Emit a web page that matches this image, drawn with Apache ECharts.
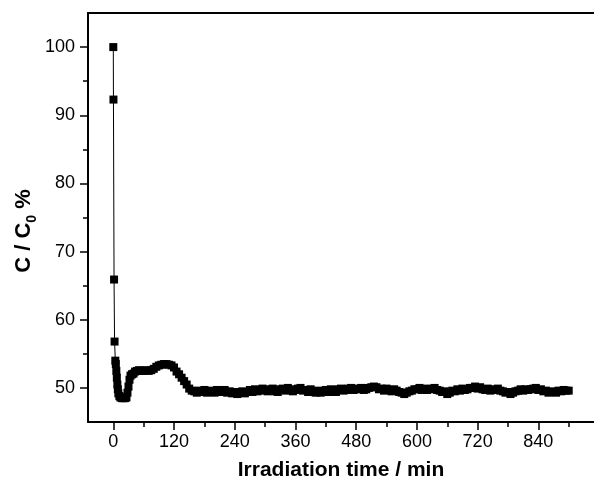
<!DOCTYPE html>
<html><head><meta charset="utf-8">
<script src="https://cdn.jsdelivr.net/npm/echarts@6/dist/echarts.min.js"></script>
<style>html,body{margin:0;padding:0;background:#fff}#c{width:594px;height:486px}</style>
</head><body><div id="c"></div>
<script>
// Irradiation time (min)
const times = [0,0.3,1.5,2.5,4,5,6,7,8,9,10,12,14,17,20,23,26,28,30,32,34,37,40,43,47,51,55,60,65,70,75,80,85,90,95,100,105,110,115,120,125,130,135,140,145,150,155,
160,165,170,175,180,185,190,195,200,205,210,215,220,225,230,235,240,245,250,255,260,265,270,275,280,285,290,295,300,305,310,315,320,325,330,335,340,345,350,355,
360,365,370,375,380,385,390,395,400,405,410,415,420,425,430,435,440,445,450,455,460,465,470,475,480,485,490,495,500,505,510,515,520,525,530,535,540,545,550,555,
560,565,570,575,580,585,590,595,600,605,610,615,620,625,630,635,640,645,650,655,660,665,670,675,680,685,690,695,700,705,710,715,720,725,730,735,740,745,750,755,
760,765,770,775,780,785,790,795,800,805,810,815,820,825,830,835,840,845,850,855,860,865,870,875,880,885,890,895,900];
// C / C0 (%)
const concentration = [100,92.3,65.9,56.8,54,53.5,52.5,51.5,50.5,49.8,49.2,48.8,48.6,48.5,48.5,48.5,48.6,49.3,50.2,51.2,51.8,52.0,52.1,52.4,52.5,52.6,52.5,52.5,52.6,52.5,52.6,52.8,53.1,53.3,53.4,53.5,53.5,53.4,53.3,53.0,52.4,52.0,51.5,51.0,50.5,49.9,49.6,
49.5,49.3,49.6,49.4,49.7,49.3,49.6,49.5,49.3,49.7,49.4,49.5,49.7,49.3,49.5,49.2,49.4,49.1,49.4,49.5,49.2,49.4,49.7,49.4,49.8,49.5,49.7,49.9,49.6,49.5,49.8,49.9,49.5,49.4,49.8,49.9,49.6,50.0,49.8,49.5,
49.7,49.9,50.0,49.6,49.7,49.4,49.8,49.5,49.3,49.6,49.3,49.5,49.7,49.4,49.8,49.6,49.4,49.8,49.9,49.6,49.7,49.9,50.0,49.7,49.8,49.9,50.0,49.7,49.8,50.0,50.1,50.2,50.1,49.8,49.9,49.6,49.9,49.7,49.5,49.8,
49.6,49.4,49.3,49.1,49.3,49.5,49.6,49.8,49.8,50.0,49.7,49.9,49.7,49.8,49.9,50.0,49.7,49.6,49.4,49.5,49.1,49.3,49.6,49.5,49.8,49.6,49.9,49.7,49.8,50.0,50.0,50.2,49.9,50.1,49.8,49.7,49.9,49.6,49.8,49.7,
49.9,49.6,49.5,49.3,49.4,49.1,49.3,49.5,49.6,49.8,49.6,49.8,49.7,49.8,49.9,50.0,49.7,49.8,49.5,49.6,49.3,49.5,49.4,49.3,49.6,49.5,49.7,49.6,49.6];
const xMajorTicks = [0,120,240,360,480,600,720,840];
const xMinorTicks = [60,180,300,420,540,660,780,900];
const yMajorTicks = [50,60,70,80,90,100];
const yMinorTicks = [55,65,75,85,95];

const FONT = "'Liberation Sans', Arial, Helvetica, sans-serif";
const chart = echarts.init(document.getElementById('c'), null, {renderer:'canvas'});
const lineStyle = {color:'#000', width:2};
const tickStyle = {color:'#000', width:1.5};
chart.setOption({
  animation:false,
  backgroundColor:'#fff',
  grid:{left:88, top:13, width:507, height:411, containLabel:false},
  xAxis:[
    {type:'value', min:-50, max:950, position:'bottom',
     axisLine:{show:true, onZero:false, lineStyle:lineStyle},
     axisTick:{show:true, customValues:xMajorTicks, length:8, lineStyle:tickStyle},
     axisLabel:{show:true, customValues:xMajorTicks, fontSize:18, color:'#000', fontFamily:FONT, margin:11},
     splitLine:{show:false},
     name:'Irradiation time / min', nameLocation:'middle', nameGap:38,
     nameTextStyle:{fontSize:21, fontWeight:'bold', color:'#000', fontFamily:FONT}},
    {type:'value', min:-50, max:950, position:'bottom',
     axisLine:{show:false, onZero:false},
     axisTick:{show:true, customValues:xMinorTicks, length:5, lineStyle:tickStyle},
     axisLabel:{show:false}, splitLine:{show:false}},
    {type:'value', min:-50, max:950, position:'top',
     axisLine:{show:true, onZero:false, lineStyle:lineStyle},
     axisTick:{show:false}, axisLabel:{show:false}, splitLine:{show:false}}
  ],
  yAxis:[
    {type:'value', min:45, max:105, position:'left',
     axisLine:{show:true, onZero:false, lineStyle:lineStyle},
     axisTick:{show:true, customValues:yMajorTicks, length:8, lineStyle:tickStyle},
     axisLabel:{show:true, customValues:yMajorTicks, fontSize:18, color:'#000', fontFamily:FONT, margin:13},
     splitLine:{show:false}},
    {type:'value', min:45, max:105, position:'left',
     axisLine:{show:false, onZero:false},
     axisTick:{show:true, customValues:yMinorTicks, length:5, lineStyle:tickStyle},
     axisLabel:{show:false}, splitLine:{show:false}}
  ],
  graphic:[{
    type:'text', x:22, y:231, rotation:Math.PI/2,
    style:{
      text:'{b|C / C}{s|0}{b| %}',
      align:'center', verticalAlign:'middle',
      rich:{
        b:{fontSize:22, fontWeight:'bold', fill:'#000', fontFamily:FONT, verticalAlign:'bottom', lineHeight:25},
        s:{fontSize:14, fontWeight:'bold', fill:'#000', fontFamily:FONT, verticalAlign:'bottom', lineHeight:16, padding:[0,0,-5,0]}
      }
    }
  }],
  series:[{
    type:'line', xAxisIndex:0, yAxisIndex:0,
    data: times.map((t,i)=>[t, concentration[i]]),
    symbol:'rect', symbolSize:8, showSymbol:true, showAllSymbol:true,
    lineStyle:{color:'#000', width:1}, itemStyle:{color:'#000'},
    clip:false
  }]
});
</script></body></html>
